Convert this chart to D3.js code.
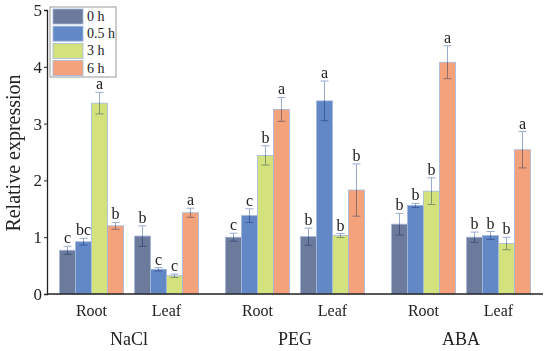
<!doctype html>
<html lang="en">
<head>
<meta charset="utf-8">
<script src="https://d3js.org/d3.v7.min.js"></script>
<style>
  body { margin: 0; background: #fff; }
  svg text { font-family: "Liberation Serif", "Times New Roman", serif; fill: #222; }
</style>
</head>
<body>
<div id="chart"></div>
<script>
// data
var treatments = ["NaCl", "PEG", "ABA"];
var tissues = ["Root", "Leaf"];
var times = ["0 h", "0.5 h", "3 h", "6 h"];
var colors = ["#6c7a9c", "#6388c6", "#d4e27e", "#f4a27b"];

// means, per treatment -> tissue -> time
var means = [
  [[0.77, 0.92, 3.36, 1.20], [1.02, 0.435, 0.32, 1.43]],
  [[1.00, 1.38, 2.44, 3.25], [1.01, 3.40, 1.03, 1.83]],
  [[1.23, 1.56, 1.81, 4.08], [1.00, 1.03, 0.89, 2.54]]
];
var errors = [
  [[0.07, 0.06, 0.19, 0.06], [0.18, 0.03, 0.03, 0.08]],
  [[0.07, 0.12, 0.17, 0.21], [0.15, 0.35, 0.035, 0.46]],
  [[0.19, 0.035, 0.235, 0.29], [0.09, 0.07, 0.11, 0.32]]
];
var letters = [
  [["c", "bc", "a", "b"], ["b", "c", "c", "a"]],
  [["c", "c", "b", "a"], ["b", "a", "b", "b"]],
  [["b", "b", "b", "a"], ["b", "b", "b", "a"]]
];
var yTicks = [0, 1, 2, 3, 4, 5];

var width = 550, height = 351;
var margin = {top: 10, right: 6, bottom: 57, left: 47};

var svg = d3.select("#chart").append("svg")
  .attr("width", width)
  .attr("height", height);

var x0 = d3.scaleBand().domain(treatments)
  .range([margin.left - 1, width - margin.right]).padding(0);
var x1 = d3.scaleBand().domain(tissues)
  .range([0, x0.bandwidth()]).paddingInner(0.147).paddingOuter(0.18);
var x2 = d3.scaleBand().domain(times)
  .range([0, x1.bandwidth()]).padding(0);
var y = d3.scaleLinear().domain([0, 5]).range([height - margin.bottom, margin.top]);

// flatten to records
var rows = [];
treatments.forEach(function(t, i) {
  tissues.forEach(function(s, j) {
    times.forEach(function(h, k) {
      rows.push({t: t, s: s, h: h, k: k,
        v: means[i][j][k], e: errors[i][j][k], l: letters[i][j][k]});
    });
  });
});

function xPos(d) { return x0(d.t) + x1(d.s) + x2(d.h); }

// bars
svg.append("g").selectAll("rect")
  .data(rows).enter().append("rect")
  .attr("x", xPos)
  .attr("y", function(d) { return y(d.v); })
  .attr("width", x2.bandwidth())
  .attr("height", function(d) { return y(0) - y(d.v); })
  .attr("fill", function(d) { return colors[d.k]; })
  .attr("stroke", "#a3b8dc")
  .attr("stroke-width", 0.8);

// error bars
var eb = svg.append("g").style("mix-blend-mode", "multiply")
  .attr("stroke", "#9aaad0").attr("stroke-width", 1).attr("fill", "none");
rows.forEach(function(d) {
  var cx = xPos(d) + x2.bandwidth() / 2;
  var t = y(d.v + d.e), b = y(d.v - d.e);
  eb.append("line").attr("x1", cx).attr("x2", cx).attr("y1", t).attr("y2", b);
  eb.append("line").attr("x1", cx - 4).attr("x2", cx + 4).attr("y1", t).attr("y2", t);
  eb.append("line").attr("x1", cx - 4).attr("x2", cx + 4).attr("y1", b).attr("y2", b);
});

// significance letters
svg.append("g").selectAll("text")
  .data(rows).enter().append("text")
  .attr("x", function(d) { return xPos(d) + x2.bandwidth() / 2; })
  .attr("y", function(d) { return y(d.v + d.e) - 3; })
  .attr("text-anchor", "middle")
  .style("font-size", "16px")
  .text(function(d) { return d.l; });

// y axis
var yAxis = svg.append("g")
  .attr("transform", "translate(" + margin.left + ",0)")
  .call(d3.axisLeft(y).tickValues(yTicks).tickSize(3).tickPadding(2).tickFormat(d3.format("d")));
yAxis.select(".domain").attr("stroke", "#222").attr("stroke-width", 1.3);
yAxis.selectAll(".tick line").attr("stroke", "#222");
yAxis.selectAll("text").style("font-size", "17px").style("font-family", "Liberation Serif").attr("fill", "#222");

// x axis line
svg.append("line")
  .attr("x1", margin.left).attr("x2", width - margin.right - 1)
  .attr("y1", y(0)).attr("y2", y(0))
  .attr("stroke", "#222").attr("stroke-width", 1.3);

// tissue labels
rows.filter(function(d) { return d.k === 0; }).forEach(function(d) {
  svg.append("text")
    .attr("x", x0(d.t) + x1(d.s) + x1.bandwidth() / 2)
    .attr("y", y(0) + 22)
    .attr("text-anchor", "middle")
    .style("font-size", "16px")
    .text(d.s);
});

// treatment labels
svg.append("g").selectAll("text")
  .data(treatments).enter().append("text")
  .attr("x", function(d) { return x0(d) + x0.bandwidth() / 2; })
  .attr("y", y(0) + 51)
  .attr("text-anchor", "middle")
  .style("font-size", "18px")
  .text(function(d) { return d; });

// y title
svg.append("text")
  .attr("transform", "translate(20," + 153 + ") rotate(-90)")
  .attr("text-anchor", "middle")
  .style("font-size", "20px")
  .text("Relative expression");

// legend
var lg = svg.append("g").attr("transform", "translate(50,7)");
lg.append("rect").attr("width", 66).attr("height", 70)
  .attr("fill", "#fff").attr("stroke", "#999").attr("stroke-width", 1);
times.forEach(function(h, k) {
  lg.append("rect")
    .attr("x", 3).attr("y", 2 + k * 17.2)
    .attr("width", 30).attr("height", 15)
    .attr("fill", colors[k]).attr("stroke", "#a3b8dc").attr("stroke-width", 0.8);
  lg.append("text")
    .attr("x", 37).attr("y", 14 + k * 17.2)
    .style("font-size", "14px")
    .text(h);
});
</script>
</body>
</html>
